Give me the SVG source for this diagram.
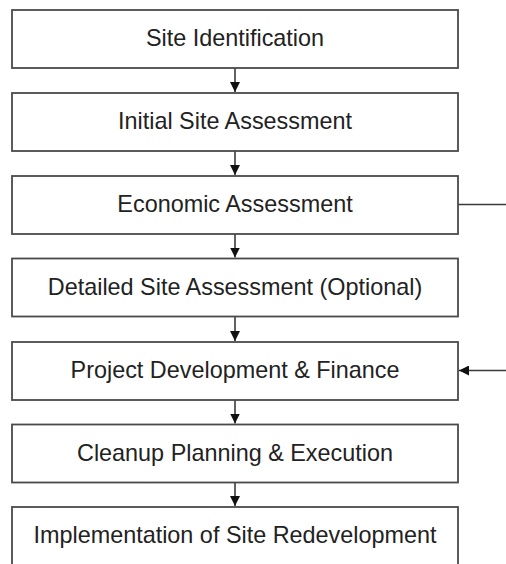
<svg xmlns="http://www.w3.org/2000/svg" width="506" height="564" viewBox="0 0 506 564">
<defs>
<style>
.box{fill:#ffffff;stroke:#4a4a4a;stroke-width:1.8}
.lbl{font-family:"Liberation Sans",Arial,sans-serif;font-size:23.4px;fill:#222222;text-anchor:middle}
.con{stroke:#3a3a3a;stroke-width:1.6;fill:none}
</style>
<marker id="ah" viewBox="0 0 10 10" refX="10" refY="5" markerWidth="10" markerHeight="10" markerUnits="userSpaceOnUse" orient="auto">
<path d="M0,0 L10,5 L0,10 Z" fill="#111111"/>
</marker>
</defs>
<rect width="506" height="564" fill="#ffffff"/>
<g id="connectors">
<line class="con" x1="235" y1="68" x2="235" y2="92" marker-end="url(#ah)"/>
<line class="con" x1="235" y1="151" x2="235" y2="175" marker-end="url(#ah)"/>
<line class="con" x1="235" y1="234" x2="235" y2="257.5" marker-end="url(#ah)"/>
<line class="con" x1="235" y1="316.5" x2="235" y2="341" marker-end="url(#ah)"/>
<line class="con" x1="235" y1="400" x2="235" y2="423.5" marker-end="url(#ah)"/>
<line class="con" x1="235" y1="482.5" x2="235" y2="506" marker-end="url(#ah)"/>
<line class="con" x1="458" y1="204.5" x2="506" y2="204.5"/>
<line class="con" x1="506" y1="370.5" x2="459" y2="370.5" marker-end="url(#ah)"/>
</g>
<g id="n1"><rect class="box" x="12" y="10" width="446" height="58"/><text class="lbl" x="235" y="46">Site Identification</text></g>
<g id="n2"><rect class="box" x="12" y="93" width="446" height="58"/><text class="lbl" x="235" y="129">Initial Site Assessment</text></g>
<g id="n3"><rect class="box" x="12" y="176" width="446" height="58"/><text class="lbl" x="235" y="212">Economic Assessment</text></g>
<g id="n4"><rect class="box" x="12" y="258.5" width="446" height="58"/><text class="lbl" x="235" y="294.5">Detailed Site Assessment (Optional)</text></g>
<g id="n5"><rect class="box" x="12" y="342" width="446" height="58"/><text class="lbl" x="235" y="378">Project Development &amp; Finance</text></g>
<g id="n6"><rect class="box" x="12" y="424.5" width="446" height="58"/><text class="lbl" x="235" y="460.5">Cleanup Planning &amp; Execution</text></g>
<g id="n7"><rect class="box" x="12" y="507" width="446" height="70"/><text class="lbl" x="235" y="543">Implementation of Site Redevelopment</text></g>
</svg>
